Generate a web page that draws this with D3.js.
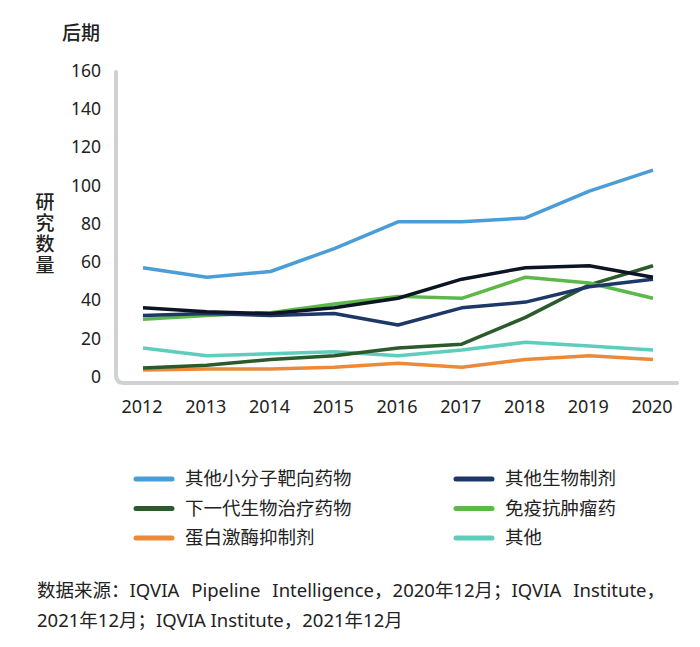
<!DOCTYPE html>
<html><head><meta charset="utf-8">
<script src="https://cdn.jsdelivr.net/npm/d3@7"></script>
<style>body{margin:0;background:#fff}svg{display:block}text{font-family:"Noto Sans","Noto Sans CJK SC",sans-serif;fill:#222}.cjk{font-family:"Noto Sans CJK SC","Noto Sans",sans-serif}</style>
</head><body><svg id="c" width="700" height="647"></svg>
<script>
const years = [2012,2013,2014,2015,2016,2017,2018,2019,2020];
const yTicks = [0,20,40,60,80,100,120,140,160];
const seriesNames = ["其他小分子靶向药物","其他生物制剂","下一代生物治疗药物","免疫抗肿瘤药","蛋白激酶抑制剂","其他",""];
const smallMolecule = [57,52,55,67,81,81,83,97,108];
const otherBio = [32,33,32,33,27,36,39,47,51];
const nextGenBio = [4.5,6,9,11,15,17,31,48,58];
const immunoOnc = [30,32,33.5,38,42,41,52,49,41];
const kinase = [3.5,4,4,5,7,5,9,11,9];
const others = [15,11,12,13,11,14,18,16,14];
const unlabeled = [36,34,33,36,41,51,57,58,52];
const colors = ["#4a9dd6","#1d3768","#2b5a2b","#5cb848","#ec8a3c","#5fcdbb","#0c1524"];

const svg = d3.select("#c");
const x = d3.scalePoint().domain(years).range([143,653]);
const y = d3.scaleLinear().domain([0,160]).range([376.7,70.7]);

// frame
svg.append("path").attr("d","M116,72 L116,375 Q116,383 124,383 L677,383")
  .attr("fill","none").attr("stroke","#cfd1d3").attr("stroke-width",4).attr("stroke-linecap","round");

// y ticks
svg.append("g").selectAll("text").data(yTicks).join("text")
  .attr("x",101).attr("y",d=>y(d)).attr("dy","0.35em").attr("text-anchor","end")
  .attr("font-size",17.5).text(d=>d);
// x ticks
svg.append("g").selectAll("text").data(years).join("text")
  .attr("x",d=>x(d)-1).attr("y",407).attr("dy","0.35em").attr("text-anchor","middle")
  .attr("font-size",18).text(d=>d);

svg.append("text").attr("class","cjk").attr("x",81).attr("y",33).attr("dy","0.35em").attr("text-anchor","middle")
  .attr("font-size",19).attr("font-weight",500).text("后期");
svg.append("text").attr("class","cjk").attr("x",45).attr("y",234).attr("text-anchor","middle")
  .attr("writing-mode","vertical-rl").attr("letter-spacing",2)
  .attr("font-size",19).attr("font-weight",500).text("研究数量");

const data = [smallMolecule,otherBio,nextGenBio,immunoOnc,kinase,others,unlabeled];
const order = [4,5,2,3,1,6,0];
const line = d3.line().x((d,i)=>x(years[i])).y(d=>y(d));
svg.append("g").selectAll("path").data(order).join("path")
  .attr("d",k=>line(data[k])).attr("fill","none").attr("stroke",k=>colors[k])
  .attr("stroke-width",3.5).attr("stroke-linejoin","round");

// legend
const leg = [0,2,4,1,3,5];
const lg = svg.append("g").selectAll("g").data(leg).join("g")
  .attr("transform",(k,i)=>`translate(${i<3?136:456},${479+(i%3)*29.5})`);
lg.append("line").attr("x1",0).attr("x2",36).attr("stroke",k=>colors[k]).attr("stroke-width",5).attr("stroke-linecap","round");
lg.append("text").attr("class","cjk").attr("x",49).attr("dy","0.35em").attr("font-size",18.5).text(k=>seriesNames[k]);

// footnote
const f1 = svg.append("text").attr("x",37).attr("y",591).attr("dy","0.35em").attr("font-size",18.5).attr("fill","#333")
  .text("数据来源：IQVIA Pipeline Intelligence，2020年12月；IQVIA Institute，");
const len = f1.node().getComputedTextLength();
const target = 628;
if (len < target) f1.attr("word-spacing", (target-len)/3);
svg.append("text").attr("x",37).attr("y",621).attr("dy","0.35em").attr("font-size",18.5).attr("fill","#333")
  .text("2021年12月；IQVIA Institute，2021年12月");
</script></body></html>
